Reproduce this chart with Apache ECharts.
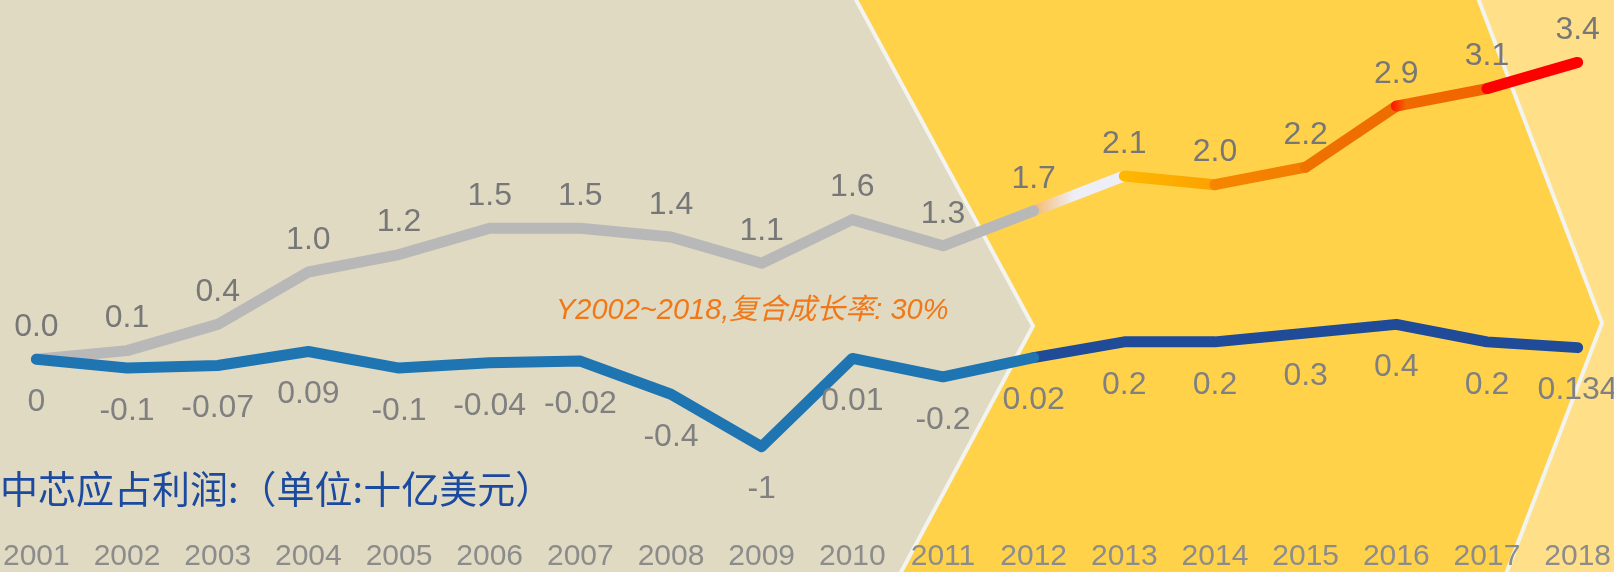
<!DOCTYPE html>
<html>
<head>
<meta charset="utf-8">
<script src="https://cdn.jsdelivr.net/npm/echarts@6/dist/echarts.min.js"></script>
<style>
html,body{margin:0;padding:0;background:#e0dac3;}
#chart{width:1614px;height:572px;}
</style>
</head>
<body>
<div id="chart"></div>
<script>
// 年份
const years = ['2001','2002','2003','2004','2005','2006','2007','2008','2009','2010','2011','2012','2013','2014','2015','2016','2017','2018'];
// 营收 (灰线 + 彩色段)
const revenue = [0.0,0.1,0.4,1.0,1.2,1.5,1.5,1.4,1.1,1.6,1.3,1.7,2.1,2.0,2.2,2.9,3.1,3.4];
// 中芯应占利润
const profit = [0,-0.1,-0.07,0.09,-0.1,-0.04,-0.02,-0.4,-1,0.01,-0.2,0.02,0.2,0.2,0.3,0.4,0.2,0.134];
const splitIdx = 11; // 2012 之后换色
const titleText = '中芯应占利润:（单位:十亿美元）';
const noteText = 'Y2002~2018,复合成长率: 30%';

// 2012 之后每一段的渐变色
const segStops = [
    [[0,'#f7b45a'],[0.45,'#eeeef6'],[1,'#eeeef6']],
    [[0,'#ffb800'],[1,'#fba000']],
    [[0,'#f68600'],[1,'#f27c00']],
    [[0,'#ef7200'],[1,'#ee6c00']],
    [[0,'#ff1000'],[0.15,'#f06a00'],[1,'#f06400']],
    [[0,'#ff0000'],[1,'#ff0000']]
];

const numFont = '"Liberation Sans", Arial, sans-serif';

const initChart = () => {
    var chart = echarts.init(document.getElementById('chart'));

    var segSeries = segStops.map((stops, k) => {
        const i0 = splitIdx + k;
        return {
            type: 'line',
            data: revenue.map((v, i) => (i === i0 || i === i0 + 1) ? v : null),
            showSymbol: false,
            silent: true,
            lineStyle: {
                width: 11,
                cap: 'round',
                join: 'round',
                color: new echarts.graphic.LinearGradient(0, 0, 1, 0,
                    stops.map(s => ({ offset: s[0], color: s[1] })))
            },
            z: 2
        };
    });

    var option = {
        backgroundColor: '#e0dac3',
        animation: false,
        grid: { left: 36, right: 34, top: 10, bottom: 33, containLabel: false },
        xAxis: {
            type: 'category',
            data: years,
            boundaryGap: false,
            axisLine: { show: false },
            axisTick: { show: false },
            splitLine: { show: false },
            axisLabel: {
                color: '#8c8c8c',
                fontSize: 30,
                fontFamily: numFont,
                margin: 8,
                interval: 0
            }
        },
        yAxis: {
            type: 'value',
            min: -2,
            max: 4,
            show: false
        },
        graphic: [
            {
                type: 'polygon', z: -10, silent: true,
                shape: { points: [[855,0],[1478,0],[1602,323],[1506,572],[900,572],[1033,326]] },
                style: { fill: '#ffd24a' }
            },
            {
                type: 'polygon', z: -10, silent: true,
                shape: { points: [[1478,0],[1614,0],[1614,572],[1506,572],[1602,323]] },
                style: { fill: '#ffe089' }
            },
            {
                type: 'polyline', z: -9, silent: true,
                shape: { points: [[855,-2],[1033,326],[900,574]] },
                style: { stroke: '#f3f3f0', lineWidth: 4, fill: null }
            },
            {
                type: 'polyline', z: -9, silent: true,
                shape: { points: [[1478,-2],[1602,323],[1506,574]] },
                style: { stroke: '#f3f3f0', lineWidth: 4, fill: null }
            },
            {
                type: 'text', z: 100, silent: true,
                x: 0, y: 489,
                style: {
                    text: titleText,
                    fill: '#1b4a9f',
                    fontSize: 38,
                    fontFamily: '"Noto Sans CJK SC", sans-serif',
                    verticalAlign: 'middle'
                }
            },
            {
                type: 'text', z: 100, silent: true,
                x: 556, y: 311,
                style: {
                    text: noteText,
                    fill: '#f07818',
                    fontSize: 29,
                    fontStyle: 'italic',
                    fontFamily: numFont + ', "Noto Sans CJK SC"',
                    verticalAlign: 'middle'
                }
            }
        ],
        series: segSeries.concat([
            {
                name: '营收',
                type: 'line',
                data: revenue.map((v, i) => i <= splitIdx ? v : null),
                showSymbol: false,
                silent: true,
                lineStyle: { width: 11, color: '#b8b8b8', cap: 'round', join: 'round' },
                z: 3
            },
            {
                name: '利润2',
                type: 'line',
                data: profit.map((v, i) => i >= splitIdx ? v : null),
                showSymbol: false,
                silent: true,
                lineStyle: { width: 11, color: '#1f4b98', cap: 'round', join: 'round' },
                z: 4
            },
            {
                name: '利润1',
                type: 'line',
                data: profit.map((v, i) => i <= splitIdx ? v : null),
                showSymbol: false,
                silent: true,
                lineStyle: { width: 11, color: '#1f74b2', cap: 'round', join: 'round' },
                z: 5
            },
            // 标签
            {
                type: 'line',
                data: revenue,
                symbol: 'circle',
                symbolSize: 0,
                showAllSymbol: true,
                silent: true,
                lineStyle: { opacity: 0 },
                label: {
                    show: true,
                    position: 'top',
                    distance: 16,
                    color: '#777777',
                    fontSize: 32,
                    fontFamily: numFont,
                    formatter: p => Number(p.value).toFixed(1)
                },
                z: 6
            },
            {
                type: 'line',
                data: profit,
                symbol: 'circle',
                symbolSize: 0,
                showAllSymbol: true,
                silent: true,
                lineStyle: { opacity: 0 },
                label: {
                    show: true,
                    position: 'bottom',
                    distance: 27,
                    color: '#808080',
                    fontSize: 32,
                    fontFamily: numFont,
                    formatter: p => String(p.value)
                },
                z: 6
            }
        ])
    };

    chart.setOption(option);
};
initChart();
</script>
</body>
</html>
